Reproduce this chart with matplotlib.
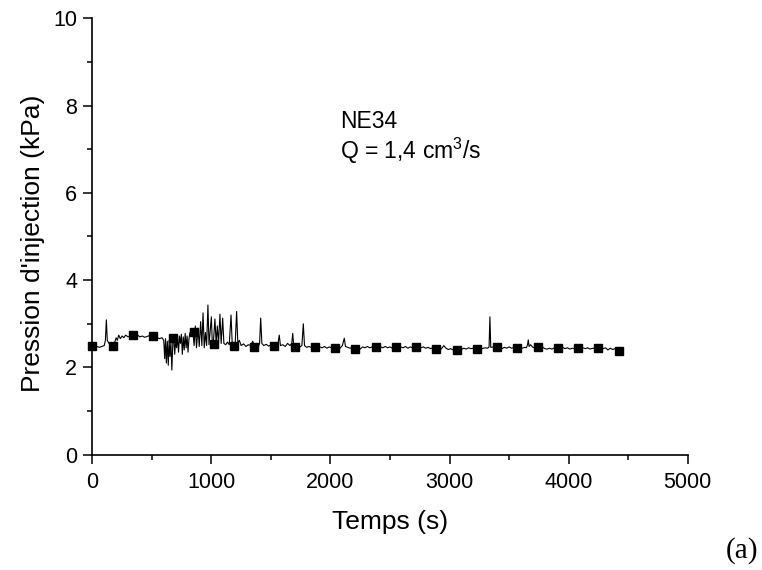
import matplotlib
matplotlib.use("Agg")
import matplotlib.pyplot as plt
from matplotlib.ticker import MultipleLocator

plt.rcParams['font.family'] = ['Liberation Sans', 'DejaVu Sans']
plt.rcParams['mathtext.fontset'] = 'custom'
plt.rcParams['mathtext.rm'] = 'Liberation Sans'
plt.rcParams['mathtext.it'] = 'Liberation Sans:italic'

# ---- data ----
# continuous recorded pressure signal (time in s, pressure in kPa)
signal_t = [0, 20, 40, 60, 80, 100, 110, 118, 126, 140, 155, 170,
            185, 200, 210, 222, 235, 250, 265, 280, 300, 320, 340,
            360, 380, 400, 420, 440, 460, 480, 500, 510,
            525, 545, 565, 585, 600, 608, 615, 622, 630, 638, 645, 652, 660, 668, 676, 684, 692, 700, 708,
            716, 724, 732, 740, 748, 756, 764, 772, 780, 788, 796, 804, 812, 820, 830, 845,
            855, 865, 875, 888, 898, 910, 920, 930, 940, 950, 960, 971, 980, 990, 1000, 1008, 1016,
            1030, 1040, 1050, 1060, 1072, 1082, 1095, 1105, 1120, 1135, 1150, 1165, 1175, 1190,
            1200, 1212, 1222, 1235, 1250, 1270, 1290, 1310, 1330, 1347, 1360, 1375, 1395, 1405,
            1414, 1424, 1440, 1460, 1480, 1500, 1528, 1545, 1560, 1570, 1580, 1600, 1620, 1640,
            1660, 1675, 1683, 1692, 1702, 1720, 1740, 1760, 1772, 1782, 1800, 1820, 1845, 1870,
            1890, 1910, 1930, 1950, 1970, 1990, 2010, 2040, 2060, 2080, 2100, 2116, 2126, 2145,
            2165, 2185, 2210, 2230, 2250, 2270, 2290, 2310, 2330, 2350, 2380, 2400, 2420, 2440,
            2460, 2480, 2500, 2520, 2550, 2570, 2590, 2610, 2630, 2650, 2670, 2690, 2720,
            2740, 2760, 2780, 2800, 2820, 2840, 2860, 2890, 2910, 2930, 2952, 2970, 2990, 3010,
            3030, 3060, 3080, 3100, 3120, 3140, 3160, 3180, 3200, 3230, 3250, 3270, 3300, 3320,
            3332, 3339, 3346, 3370, 3400, 3420, 3440, 3460, 3480, 3500, 3520, 3540, 3570, 3590,
            3610, 3630, 3645, 3655, 3661, 3668, 3680, 3700, 3740, 3760, 3780, 3800, 3820, 3840,
            3860, 3880, 3910, 3930, 3950, 3970, 3990, 4010, 4030, 4050, 4080, 4100, 4120, 4140,
            4160, 4180, 4200, 4220, 4250, 4270, 4290, 4310, 4330, 4350, 4370, 4390, 4420]
signal_p = [2.49, 2.47, 2.48, 2.46, 2.48, 2.50, 2.62, 3.09, 2.62, 2.55, 2.50, 2.49,
            2.55, 2.68, 2.62, 2.74, 2.66, 2.72, 2.68, 2.74, 2.70, 2.73, 2.74,
            2.72, 2.74, 2.70, 2.72, 2.69, 2.71, 2.73, 2.71, 2.72,
            2.70, 2.68, 2.66, 2.68, 2.62, 2.20, 2.66, 2.10, 2.60, 2.05, 2.62, 2.25, 2.58, 1.94, 2.55, 2.68, 2.30, 2.62, 2.45,
            2.70, 2.35, 2.72, 2.55, 2.76, 2.30, 2.70, 2.40, 2.78, 2.45, 2.72, 2.35, 2.66, 2.80, 2.75, 2.81,
            2.50, 2.95, 2.45, 2.90, 2.48, 3.05, 2.50, 3.25, 2.45, 2.80, 2.50, 3.43, 2.52, 2.85, 3.16, 2.52, 2.55,
            3.11, 2.55, 2.95, 2.55, 3.22, 2.55, 3.13, 2.55, 2.52, 2.58, 2.52, 3.20, 2.55, 2.52,
            2.55, 3.28, 2.56, 2.62, 2.50, 2.54, 2.48, 2.52, 2.50, 2.60, 2.50, 2.52, 2.48, 2.55,
            3.13, 2.55, 2.50, 2.53, 2.49, 2.51, 2.49, 2.50, 2.55, 2.74, 2.50, 2.52, 2.48, 2.55,
            2.50, 2.55, 2.78, 2.48, 2.47, 2.50, 2.46, 2.50, 3.00, 2.50, 2.46, 2.48, 2.45, 2.46,
            2.44, 2.47, 2.45, 2.48, 2.44, 2.47, 2.45, 2.45, 2.47, 2.44, 2.50, 2.67, 2.48, 2.46,
            2.44, 2.45, 2.42, 2.44, 2.42, 2.47, 2.45, 2.48, 2.45, 2.47, 2.47, 2.44, 2.47, 2.45,
            2.48, 2.45, 2.47, 2.44, 2.46, 2.44, 2.47, 2.45, 2.48, 2.44, 2.47, 2.45, 2.46,
            2.48, 2.45, 2.47, 2.44, 2.46, 2.43, 2.45, 2.43, 2.45, 2.42, 2.50, 2.44, 2.41, 2.43,
            2.40, 2.40, 2.43, 2.41, 2.44, 2.42, 2.45, 2.43, 2.44, 2.43, 2.45, 2.43, 2.45, 2.44,
            2.47, 3.16, 2.46, 2.47, 2.47, 2.45, 2.43, 2.46, 2.44, 2.47, 2.44, 2.46, 2.45, 2.47,
            2.44, 2.46, 2.45, 2.52, 2.63, 2.48, 2.52, 2.46, 2.46, 2.44, 2.47, 2.43, 2.42, 2.44,
            2.42, 2.45, 2.45, 2.44, 2.46, 2.43, 2.45, 2.42, 2.44, 2.43, 2.44, 2.42, 2.45, 2.43,
            2.45, 2.42, 2.44, 2.43, 2.44, 2.46, 2.43, 2.45, 2.40, 2.44, 2.41, 2.43, 2.38]

# square markers placed along the signal
marker_t = [0, 170, 340, 510, 680, 850, 1020, 1190, 1360, 1530, 1700, 1870, 2040, 2210,
            2380, 2550, 2720, 2890, 3060, 3230, 3400, 3570, 3740, 3910, 4080, 4250, 4420]
marker_p = [2.49, 2.49, 2.74, 2.72, 2.68, 2.81, 2.54, 2.50, 2.47, 2.49, 2.47, 2.46, 2.45, 2.42,
            2.47, 2.46, 2.46, 2.43, 2.40, 2.43, 2.47, 2.45, 2.46, 2.45, 2.44, 2.44, 2.38]

x_ticks = [0, 1000, 2000, 3000, 4000, 5000]
y_ticks = [0, 2, 4, 6, 8, 10]
x_label = "Temps (s)"
y_label = "Pression d'injection (kPa)"
annot_lines = ["NE34", "Q = 1,4 cm$^{3}$/s"]
panel_tag = "(a)"

# ---- figure ----
fig = plt.figure(figsize=(7.62, 5.70), dpi=100)
ax = fig.add_axes([92.3 / 762, 1 - 454.7 / 570, (687.7 - 92.3) / 762, (454.7 - 18.3) / 570])

ax.plot(signal_t, signal_p, color='black', lw=0.8, zorder=2, clip_on=False)
ax.plot(marker_t, marker_p, linestyle='none', marker='s', markersize=5.4,
        color='black', zorder=3, clip_on=False)

ax.set_xlim(0, 5000)
ax.set_ylim(0, 10)
ax.set_xticks(x_ticks)
ax.set_yticks(y_ticks)
ax.xaxis.set_minor_locator(MultipleLocator(500))
ax.yaxis.set_minor_locator(MultipleLocator(1))

for side in ['top', 'right']:
    ax.spines[side].set_visible(False)
for side in ['left', 'bottom']:
    ax.spines[side].set_linewidth(1.2)

ax.tick_params(which='major', direction='out', length=6.5, width=1.1, labelsize=15.5)
ax.tick_params(which='minor', direction='out', length=3.5, width=1.1)
ax.tick_params(axis='x', which='major', pad=6)
ax.tick_params(axis='y', which='major', pad=4.5)

ax.set_xlabel(x_label, fontsize=19, va='top')
ax.xaxis.set_label_coords(0.5, -0.126)
ax.set_ylabel(y_label, fontsize=19, va='center')
ax.yaxis.set_label_coords(-0.099, 0.484)

ax.text(2080, 7.49, annot_lines[0], fontsize=16.5, ha='left', va='baseline')
ax.text(2080, 6.78, annot_lines[1], fontsize=16.5, ha='left', va='baseline')

fig.text(758 / 762, 1 - 551 / 570, panel_tag, fontsize=21, family='Liberation Serif',
         ha='right', va='center')

fig.savefig("out.png", dpi=100)
